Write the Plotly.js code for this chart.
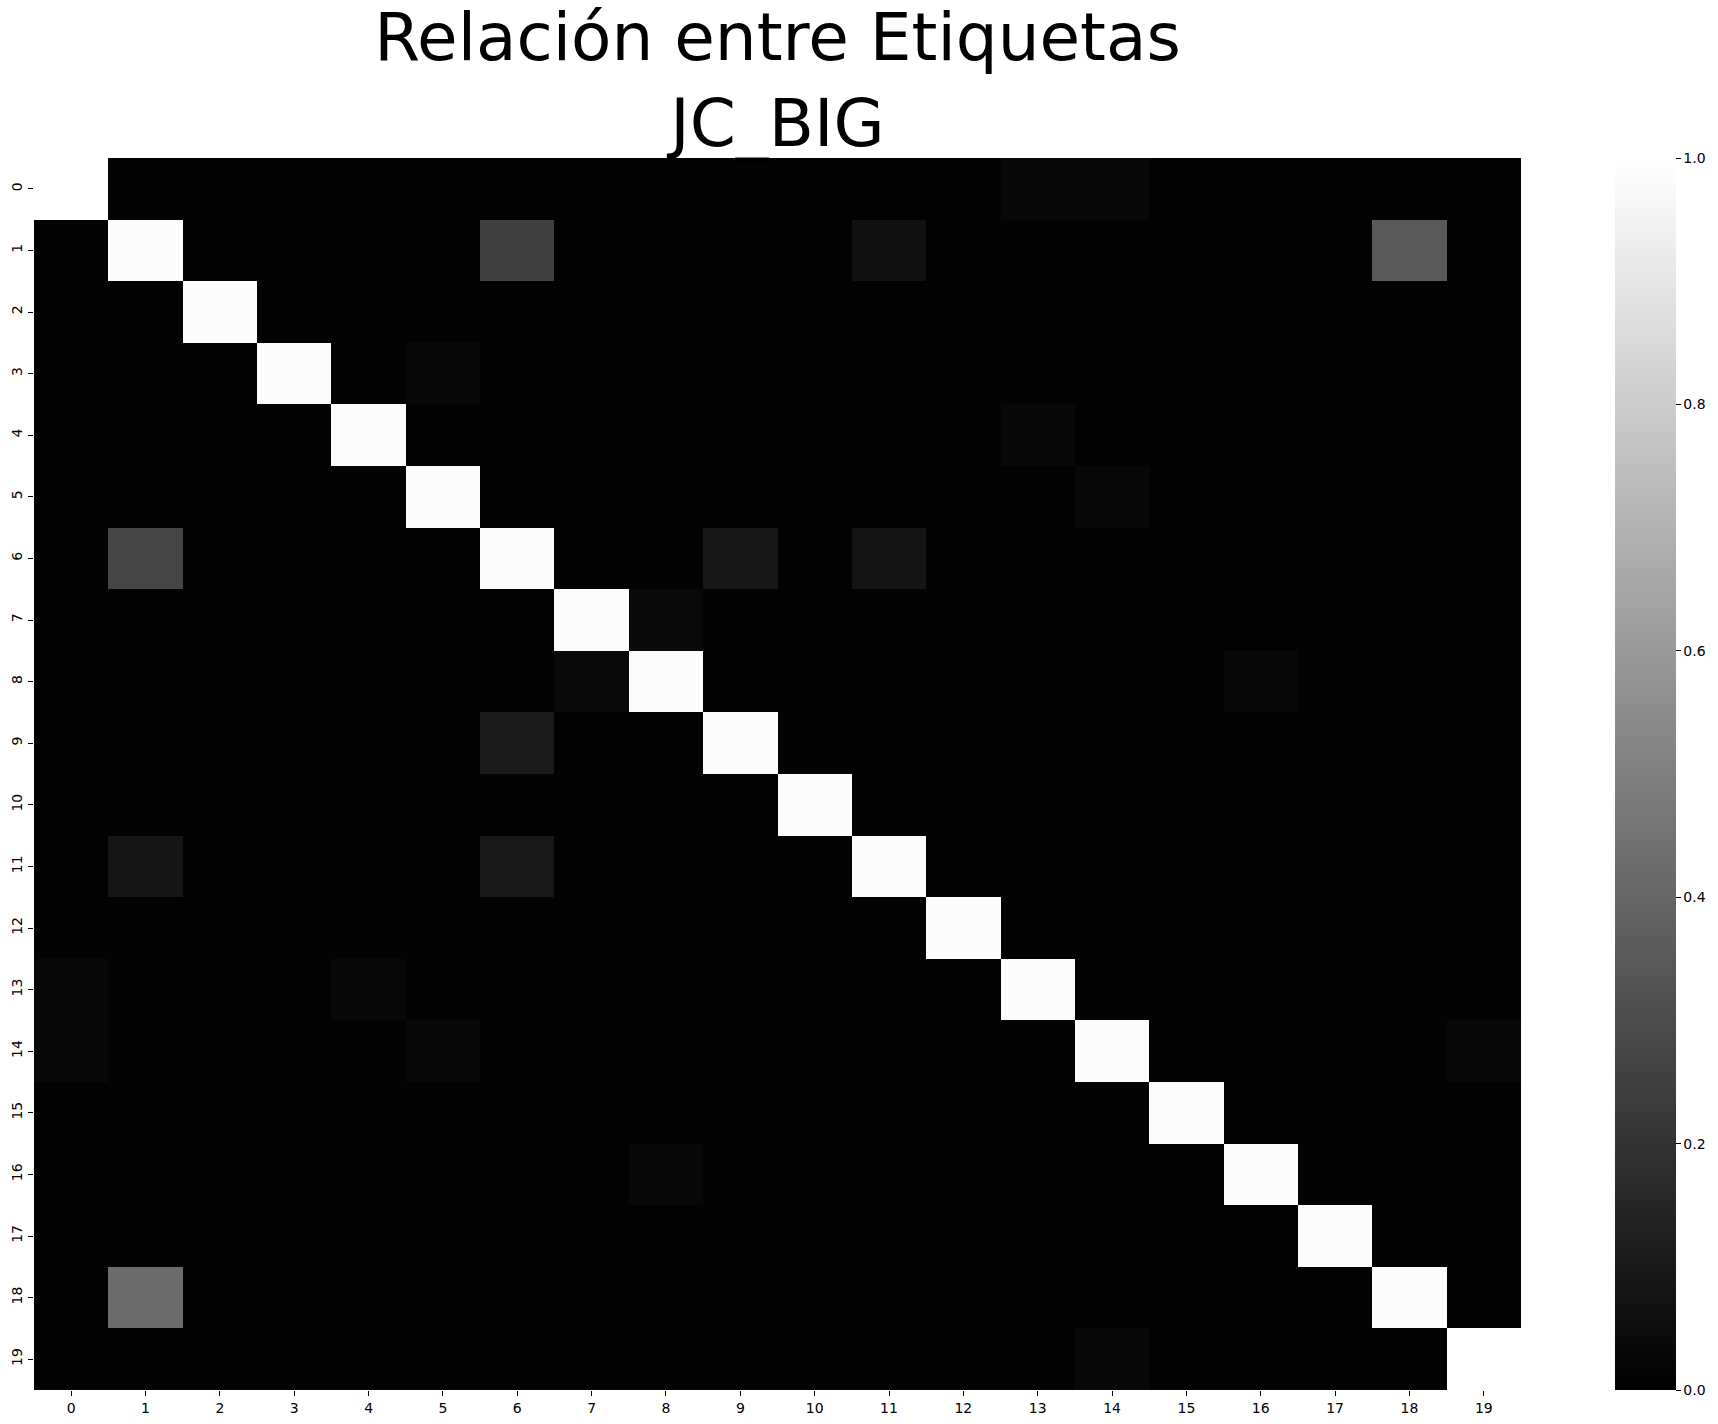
<!DOCTYPE html>
<html>
<head>
<meta charset="utf-8">
<script src="https://cdn.plot.ly/plotly-3.0.1.min.js"></script>
<style>
  html, body { margin: 0; padding: 0; background: #ffffff; }
  #chart { width: 1718px; height: 1424px; }
</style>
</head>
<body>
<div id="chart"></div>
<script>
// Category labels (rows and columns)
const labels = ["0","1","2","3","4","5","6","7","8","9","10","11","12","13","14","15","16","17","18","19"];

// Relationship matrix values, one named row per label
const row0  = [1.00,0.01,0.01,0.01,0.01,0.01,0.01,0.01,0.01,0.01,0.01,0.01,0.01,0.03,0.03,0.01,0.01,0.01,0.01,0.01];
const row1  = [0.01,0.99,0.01,0.01,0.01,0.01,0.25,0.01,0.01,0.01,0.01,0.07,0.01,0.01,0.01,0.01,0.01,0.01,0.35,0.01];
const row2  = [0.01,0.01,0.99,0.01,0.01,0.01,0.01,0.01,0.01,0.01,0.01,0.01,0.01,0.01,0.01,0.01,0.01,0.01,0.01,0.01];
const row3  = [0.01,0.01,0.01,0.99,0.01,0.03,0.01,0.01,0.01,0.01,0.01,0.01,0.01,0.01,0.01,0.01,0.01,0.01,0.01,0.01];
const row4  = [0.01,0.01,0.01,0.01,0.99,0.01,0.01,0.01,0.01,0.01,0.01,0.01,0.01,0.03,0.01,0.01,0.01,0.01,0.01,0.01];
const row5  = [0.01,0.01,0.01,0.01,0.01,0.99,0.01,0.01,0.01,0.01,0.01,0.01,0.01,0.01,0.03,0.01,0.01,0.01,0.01,0.01];
const row6  = [0.01,0.27,0.01,0.01,0.01,0.01,0.99,0.01,0.01,0.09,0.01,0.08,0.01,0.01,0.01,0.01,0.01,0.01,0.01,0.01];
const row7  = [0.01,0.01,0.01,0.01,0.01,0.01,0.01,0.99,0.035,0.01,0.01,0.01,0.01,0.01,0.01,0.01,0.01,0.01,0.01,0.01];
const row8  = [0.01,0.01,0.01,0.01,0.01,0.01,0.01,0.04,0.99,0.01,0.01,0.01,0.01,0.01,0.01,0.01,0.03,0.01,0.01,0.01];
const row9  = [0.01,0.01,0.01,0.01,0.01,0.01,0.10,0.01,0.01,0.99,0.01,0.01,0.01,0.01,0.01,0.01,0.01,0.01,0.01,0.01];
const row10 = [0.01,0.01,0.01,0.01,0.01,0.01,0.01,0.01,0.01,0.01,0.99,0.01,0.01,0.01,0.01,0.01,0.01,0.01,0.01,0.01];
const row11 = [0.01,0.085,0.01,0.01,0.01,0.01,0.095,0.01,0.01,0.01,0.01,0.99,0.01,0.01,0.01,0.01,0.01,0.01,0.01,0.01];
const row12 = [0.01,0.01,0.01,0.01,0.01,0.01,0.01,0.01,0.01,0.01,0.01,0.01,0.99,0.01,0.01,0.01,0.01,0.01,0.01,0.01];
const row13 = [0.03,0.01,0.01,0.01,0.03,0.01,0.01,0.01,0.01,0.01,0.01,0.01,0.01,0.99,0.01,0.01,0.01,0.01,0.01,0.01];
const row14 = [0.03,0.01,0.01,0.01,0.01,0.03,0.01,0.01,0.01,0.01,0.01,0.01,0.01,0.01,0.99,0.01,0.01,0.01,0.01,0.03];
const row15 = [0.01,0.01,0.01,0.01,0.01,0.01,0.01,0.01,0.01,0.01,0.01,0.01,0.01,0.01,0.01,0.99,0.01,0.01,0.01,0.01];
const row16 = [0.01,0.01,0.01,0.01,0.01,0.01,0.01,0.01,0.03,0.01,0.01,0.01,0.01,0.01,0.01,0.01,0.99,0.01,0.01,0.01];
const row17 = [0.01,0.01,0.01,0.01,0.01,0.01,0.01,0.01,0.01,0.01,0.01,0.01,0.01,0.01,0.01,0.01,0.01,0.99,0.01,0.01];
const row18 = [0.01,0.42,0.01,0.01,0.01,0.01,0.01,0.01,0.01,0.01,0.01,0.01,0.01,0.01,0.01,0.01,0.01,0.01,0.99,0.01];
const row19 = [0.01,0.01,0.01,0.01,0.01,0.01,0.01,0.01,0.01,0.01,0.01,0.01,0.01,0.01,0.03,0.01,0.01,0.01,0.01,1.00];

const colorbarTicks = [0.0, 0.2, 0.4, 0.6, 0.8, 1.0];
const titleLine1 = "Relación entre Etiquetas";
const titleLine2 = "JC_BIG";

const z = [row0,row1,row2,row3,row4,row5,row6,row7,row8,row9,
           row10,row11,row12,row13,row14,row15,row16,row17,row18,row19];

const W = 1718, H = 1424;
const plotL = 34, plotR = 1521, plotT = 158, plotB = 1390;
const plotW = plotR - plotL;

const trace = {
  type: 'heatmap',
  z: z,
  x: labels,
  y: labels,
  zmin: 0,
  zmax: 1,
  colorscale: [[0, '#000000'], [1, '#ffffff']],
  hoverongaps: false,
  colorbar: {
    x: (1615 - plotL) / plotW,
    xanchor: 'left',
    xref: 'paper',
    y: 0.5,
    yanchor: 'middle',
    len: 1,
    lenmode: 'fraction',
    thickness: 61,
    thicknessmode: 'pixels',
    outlinewidth: 0,
    ticks: 'outside',
    ticklen: 5,
    tickwidth: 1,
    tickcolor: '#000000',
    tickvals: colorbarTicks,
    tickformat: '.1f',
    tickprefix: '\u2009',
    tickfont: { family: 'DejaVu Sans', size: 14, color: '#000000' },
    xpad: 0,
    ypad: 0
  }
};

const layout = {
  width: W,
  height: H,
  paper_bgcolor: '#ffffff',
  plot_bgcolor: '#ffffff',
  margin: { l: plotL, r: W - plotR, t: plotT, b: H - plotB, pad: 0 },
  font: { family: 'DejaVu Sans', color: '#000000' },
  title: {
    text: titleLine1 + '<br>' + titleLine2,
    font: { family: 'DejaVu Sans', size: 66, color: '#000000' },
    x: (plotL + plotW / 2) / W,
    xanchor: 'center',
    xref: 'container',
    y: 1 - 60 / H,
    yanchor: 'top',
    yref: 'container'
  },
  xaxis: {
    type: 'category',
    tickmode: 'array',
    tickvals: labels,
    ticktext: labels,
    ticks: 'outside',
    ticklen: 5,
    tickwidth: 1,
    tickcolor: '#000000',
    tickfont: { family: 'DejaVu Sans', size: 14, color: '#000000' },
    showgrid: false,
    zeroline: false,
    showline: false,
    tickangle: 0
  },
  yaxis: {
    type: 'category',
    autorange: 'reversed',
    tickmode: 'array',
    tickvals: labels,
    ticktext: labels,
    ticks: 'outside',
    ticklen: 5,
    tickwidth: 1,
    tickcolor: '#000000',
    tickfont: { family: 'DejaVu Sans', size: 14, color: '#000000' },
    tickangle: -90,
    showgrid: false,
    zeroline: false,
    showline: false
  }
};

Plotly.newPlot('chart', [trace], layout, { displayModeBar: false, staticPlot: true });
</script>
</body>
</html>
